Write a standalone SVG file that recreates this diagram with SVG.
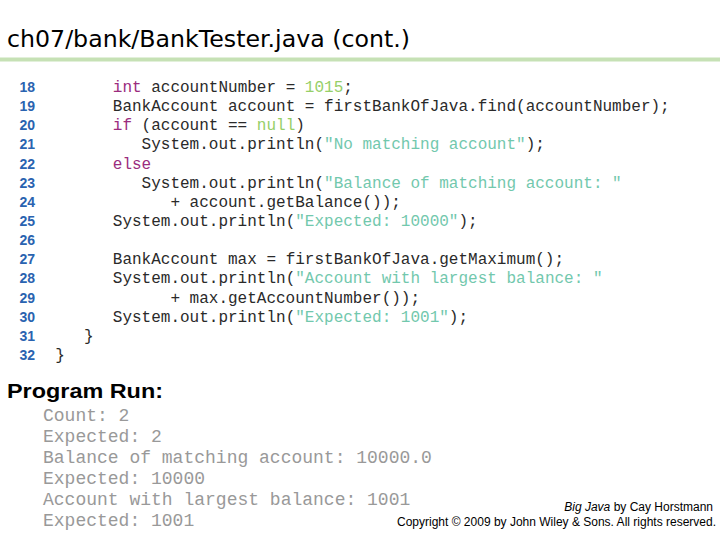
<svg xmlns="http://www.w3.org/2000/svg" width="720" height="540" viewBox="0 0 720 540">
<style>
.title{font-family:"DejaVu Sans",sans-serif;font-size:23px;fill:#000}
.ln{font-family:"Liberation Sans",Arial,sans-serif;font-weight:bold;font-size:14px;fill:#2a63b0;text-anchor:end}
.code{font-family:"Liberation Mono","Courier New",monospace;font-size:16px;fill:#2a2a2a;white-space:pre}
.kw{fill:#9b2c7e}
.num{fill:#96cf68}
.str{fill:#72c8ad}
.hd{font-family:"Liberation Sans",Arial,sans-serif;font-weight:bold;font-size:21px;fill:#000}
.out{font-family:"Liberation Mono","Courier New",monospace;font-size:18px;fill:#999;white-space:pre}
.cr{font-family:"Liberation Sans",Arial,sans-serif;font-size:12px;fill:#000;text-anchor:end}
</style>
<rect width="720" height="540" fill="#fff"/>
<g id="title">
<text class="title" x="7" y="47" textLength="403" lengthAdjust="spacingAndGlyphs">ch07/bank/BankTester.java (cont.)</text>
<rect x="0" y="57.5" width="720" height="4" fill="#c6e1b5"/>
</g>
<g id="linenumbers">
<text class="ln" x="35" y="92">18</text>
<text class="ln" x="35" y="111.1">19</text>
<text class="ln" x="35" y="130.3">20</text>
<text class="ln" x="35" y="149.4">21</text>
<text class="ln" x="35" y="168.6">22</text>
<text class="ln" x="35" y="187.7">23</text>
<text class="ln" x="35" y="206.8">24</text>
<text class="ln" x="35" y="226">25</text>
<text class="ln" x="35" y="245.1">26</text>
<text class="ln" x="35" y="264.3">27</text>
<text class="ln" x="35" y="283.4">28</text>
<text class="ln" x="35" y="302.5">29</text>
<text class="ln" x="35" y="321.7">30</text>
<text class="ln" x="35" y="340.8">31</text>
<text class="ln" x="35" y="360">32</text>
</g>
<g id="code">
<text class="code" x="112.8" y="92"><tspan class="kw">int</tspan> accountNumber = <tspan class="num">1015</tspan>;</text>
<text class="code" x="112.8" y="111.1">BankAccount account = firstBankOfJava.find(accountNumber);</text>
<text class="code" x="112.8" y="130.3"><tspan class="kw">if</tspan> (account == <tspan class="num">null</tspan>)</text>
<text class="code" x="141.6" y="149.4">System.out.println(<tspan class="str">"No matching account"</tspan>);</text>
<text class="code" x="112.8" y="168.6"><tspan class="kw">else</tspan></text>
<text class="code" x="141.6" y="187.7">System.out.println(<tspan class="str">"Balance of matching account: "</tspan></text>
<text class="code" x="170.4" y="206.8">+ account.getBalance());</text>
<text class="code" x="112.8" y="226">System.out.println(<tspan class="str">"Expected: 10000"</tspan>);</text>
<text class="code" x="112.8" y="264.3">BankAccount max = firstBankOfJava.getMaximum();</text>
<text class="code" x="112.8" y="283.4">System.out.println(<tspan class="str">"Account with largest balance: "</tspan></text>
<text class="code" x="170.4" y="302.5">+ max.getAccountNumber());</text>
<text class="code" x="112.8" y="321.7">System.out.println(<tspan class="str">"Expected: 1001"</tspan>);</text>
<text class="code" x="84" y="340.8">}</text>
<text class="code" x="55.2" y="360">}</text>
</g>
<g id="programrun">
<text class="hd" x="7" y="398" textLength="156" lengthAdjust="spacingAndGlyphs">Program Run:</text>
<text class="out" x="43" y="421">Count: 2</text>
<text class="out" x="43" y="442">Expected: 2</text>
<text class="out" x="43" y="463">Balance of matching account: 10000.0</text>
<text class="out" x="43" y="484">Expected: 10000</text>
<text class="out" x="43" y="505">Account with largest balance: 1001</text>
<text class="out" x="43" y="526">Expected: 1001</text>
</g>
<g id="copyright">
<text class="cr" x="713" y="511"><tspan font-style="italic">Big Java</tspan> by Cay Horstmann</text>
<text class="cr" x="716" y="525.5">Copyright © 2009 by John Wiley &amp; Sons.  All rights reserved.</text>
</g>
</svg>
